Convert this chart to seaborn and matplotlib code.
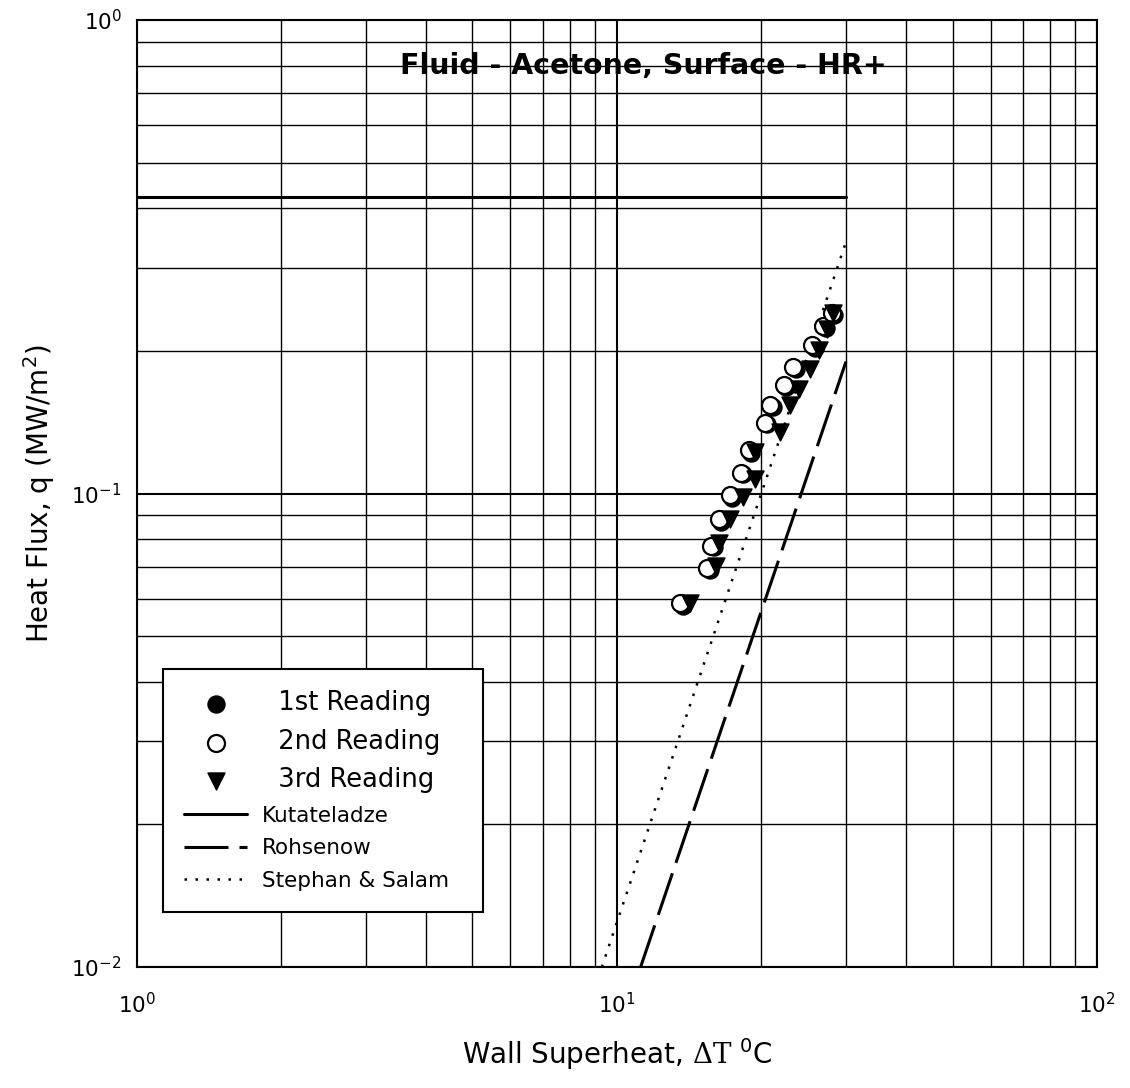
import seaborn as sns
import matplotlib.pyplot as plt
from matplotlib.ticker import NullFormatter

sns.set_style("white")
plt.rcParams['font.family'] = ['DejaVu Sans']
plt.rcParams['mathtext.fontset'] = 'dejavuserif'
plt.rcParams['axes.unicode_minus'] = False
plt.rcParams['text.color'] = 'black'
plt.rcParams['axes.labelcolor'] = 'black'
plt.rcParams['xtick.color'] = 'black'
plt.rcParams['ytick.color'] = 'black'

# wall superheat (C) and heat flux (MW/m2) for the three readings
dt_1st = [13.7, 15.6, 15.9, 16.5, 17.4, 18.3, 19.0, 20.5, 21.1, 22.5, 23.6, 25.8, 27.2, 28.3]
q_1st = [0.058, 0.069, 0.077, 0.087, 0.098, 0.110, 0.122, 0.140, 0.152, 0.168, 0.183, 0.203, 0.224, 0.238]

dt_2nd = [13.5, 15.4, 15.7, 16.3, 17.2, 18.1, 18.8, 20.3, 20.8, 22.3, 23.3, 25.5, 26.9, 28.0]
q_2nd = [0.0586, 0.0695, 0.0775, 0.0882, 0.0993, 0.1106, 0.1236, 0.1411, 0.1538, 0.1695, 0.1847, 0.2059, 0.2258, 0.2401]

dt_3rd = [14.2, 16.1, 16.3, 17.2, 18.3, 19.4, 19.4, 21.9, 22.9, 23.9, 25.3, 26.4, 27.4, 28.2]
q_3rd = [0.0586, 0.0703, 0.0785, 0.0882, 0.0985, 0.1072, 0.1226, 0.135, 0.1538, 0.166, 0.1829, 0.201, 0.2222, 0.2401]

# correlations, end points
kut_dt = [1.0, 30.0]
kut_q = [0.423, 0.423]
roh_dt = [11.2, 30.0]
roh_q = [0.01, 0.19]
ss_dt = [9.3, 30.0]
ss_q = [0.01, 0.34]

fig = plt.figure(figsize=(11.3, 10.88), dpi=100)
ax = fig.add_axes([0.1212, 0.1112, 0.8496, 0.8704])
ax.set_xscale('log')
ax.set_yscale('log')

sns.scatterplot(x=dt_1st, y=q_1st, marker='o', s=150, color='black',
                edgecolor='black', linewidth=1, label='  1st Reading', ax=ax, zorder=3)
sns.scatterplot(x=dt_2nd, y=q_2nd, marker='o', s=150, color='white',
                edgecolor='black', linewidth=1.6, label='  2nd Reading', ax=ax, zorder=4)
sns.scatterplot(x=dt_3rd, y=q_3rd, marker='v', s=150, color='black',
                edgecolor='black', linewidth=1, label='  3rd Reading', ax=ax, zorder=5)

ax.plot(kut_dt, kut_q, color='black', lw=2.2, label='Kutateladze', zorder=2)
ax.plot(roh_dt, roh_q, color='black', lw=2.2, linestyle=(0, (14.4, 3.6)),
        label='Rohsenow', zorder=2)
ax.plot(ss_dt, ss_q, color='black', lw=1.8, linestyle=(0, (1, 3.4)),
        label='Stephan & Salam', zorder=2)

ax.set_xlim(1, 100)
ax.set_ylim(0.01, 1)
ax.grid(True, which='major', color='black', lw=1.5)
ax.grid(True, which='minor', color='black', lw=1.0)
ax.set_axisbelow(True)
ax.xaxis.set_minor_formatter(NullFormatter())
ax.yaxis.set_minor_formatter(NullFormatter())
ax.tick_params(which='major', direction='out', length=6, width=1.5,
               labelsize=15.5, color='black')
ax.tick_params(axis='x', which='major', pad=12)
ax.tick_params(axis='y', which='major', pad=5)
ax.tick_params(which='minor', length=0)
for s in ax.spines.values():
    s.set_color('black')
    s.set_linewidth(1.5)

ax.set_xlabel(r'Wall Superheat, $\Delta\mathrm{T}$ ${}^{\mathdefault{0}}$C',
              fontsize=20, labelpad=14)
ax.set_ylabel(r'Heat Flux, q (MW/m${}^{\mathdefault{2}}$)', fontsize=20, labelpad=10)

ax.text(0.528, 0.943, 'Fluid - Acetone, Surface - HR+', transform=ax.transAxes,
        ha='center', va='baseline', fontsize=20.5, fontweight='bold')

handles, labels = ax.get_legend_handles_labels()
leg = ax.legend(handles, labels, loc='lower left',
                bbox_to_anchor=(0.027, 0.058, 0.333, 0.26), mode='expand',
                fontsize=15.5, frameon=True, fancybox=False, edgecolor='black',
                framealpha=1, borderpad=1.0, labelspacing=0.58,
                handlelength=2.9, handletextpad=0.7, borderaxespad=0)
leg.get_frame().set_linewidth(1.5)
for t in leg.get_texts()[:3]:
    t.set_fontsize(18.5)

fig.savefig('out.png', dpi=100)
